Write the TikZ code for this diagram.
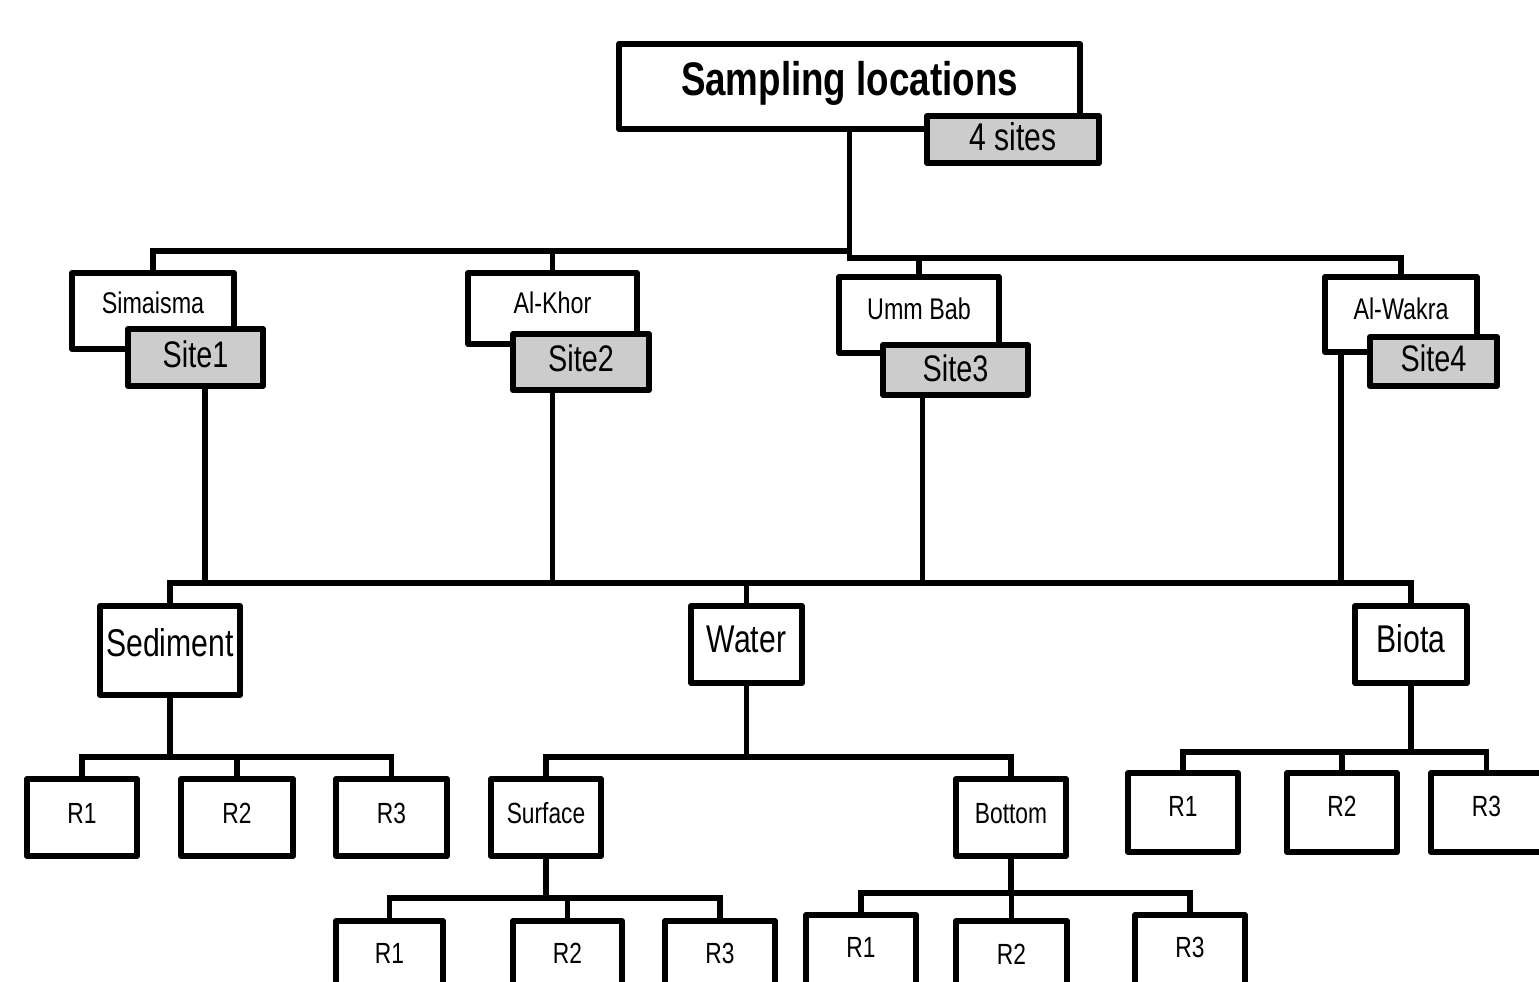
\documentclass[tikz,border=0pt]{standalone}
\usepackage{fontspec}
\setmainfont{Liberation Sans}[FakeStretch=0.78]
\newcommand\bx[8]{%
  \pgfmathsetmacro\bxw{(#5-#3-6)*0.01}%
  \pgfmathsetmacro\bxh{(#7-#4-3)*0.01}%
  \pgfmathsetmacro\bxd{(#6-#7-3)*0.01}%
  \pgfmathsetmacro\bxc{(#3+#5)/2}%
  \node[#2, anchor=base, minimum width=\bxw cm, text height=\bxh cm,
        text depth=\bxd cm, inner ysep=0pt, inner xsep=0pt] (#1) at (\bxc,#7) {#8};}
\tikzset{
  box/.style={draw=black, fill=white, line width=0.06cm, line join=round},
  graybox/.style={box, fill=black!20},
  titlef/.style={font=\fontsize{13.4}{16}\selectfont\bfseries},
  sitef/.style={font=\fontsize{10.5}{12}\selectfont},
  foursf/.style={font=\fontsize{11}{13}\selectfont},
  locf/.style={font=\fontsize{8.5}{10}\selectfont},
  matf/.style={font=\fontsize{11}{13}\selectfont},
  repf/.style={font=\fontsize{8.3}{10}\selectfont},
  conn/.style={draw=black, line width=0.058cm, line join=miter}
}
\begin{document}
\begin{tikzpicture}[x=0.01cm,y=-0.01cm]
\useasboundingbox (0,0) rectangle (1539,982);
\clip (0,0) rectangle (1539,982);
% level coordinates
\coordinate (bL) at (0,251);
\coordinate (bR) at (0,258);
\coordinate (bM) at (0,583);
\coordinate (bS) at (0,757);
\coordinate (bB) at (0,752);
\coordinate (bSu) at (0,898);
\coordinate (bBo) at (0,893);
% boxes
\bx{top}{box,titlef}{616}{41}{1083}{132}{96}{Sampling locations}
\bx{four}{graybox,foursf}{924}{113}{1102}{166}{151}{4 sites}
\bx{sim}{box,locf}{69}{270}{237}{352}{314}{Simaisma}
\bx{s1}{graybox,sitef}{125}{326}{266}{389}{367}{Site1}
\bx{akh}{box,locf}{465}{270}{640}{347}{314}{Al-Khor}
\bx{s2}{graybox,sitef}{510}{331}{652}{393}{371}{Site2}
\bx{umm}{box,locf}{836}{274}{1002}{356}{320}{Umm Bab}
\bx{s3}{graybox,sitef}{880}{342}{1031}{398}{381}{Site3}
\bx{wak}{box,locf}{1322}{274}{1480}{355}{320}{Al-Wakra}
\bx{s4}{graybox,sitef}{1367}{334}{1500}{389}{371}{Site4}
\bx{sed}{box,matf}{97}{603}{243}{698}{656}{Sediment}
\bx{wat}{box,matf}{688}{603}{805}{686}{652}{Water}
\bx{bio}{box,matf}{1352}{603}{1470}{686}{652}{Biota}
\bx{sr1}{box,repf}{24}{776}{140}{859}{823}{R1}
\bx{sr2}{box,repf}{178}{776}{296}{859}{823}{R2}
\bx{sr3}{box,repf}{333}{776}{450}{859}{823}{R3}
\bx{sur}{box,repf}{488}{776}{604}{859}{823}{Surface}
\bx{bot}{box,repf}{953}{776}{1069}{859}{823}{Bottom}
\bx{br1}{box,repf}{1125}{770}{1241}{855}{816}{R1}
\bx{br2}{box,repf}{1284}{770}{1400}{855}{816}{R2}
\bx{br3}{box,repf}{1428}{770}{1545}{855}{816}{R3}
\bx{ur1}{box,repf}{333}{918}{446}{1000}{963}{R1}
\bx{ur2}{box,repf}{510}{918}{625}{1000}{963}{R2}
\bx{ur3}{box,repf}{662}{918}{778}{1000}{963}{R3}
\bx{wr1}{box,repf}{803}{912}{919}{1000}{957}{R1}
\bx{wr2}{box,repf}{953}{918}{1070}{1000}{964}{R2}
\bx{wr3}{box,repf}{1132}{912}{1248}{1000}{957}{R3}
% connectors
\draw[conn] (top.south) -- (top.south |- bR) -| (wak.north);
\draw[conn] (sim.north) -- (sim.north |- bL) -- (top.south |- bL);
\draw[conn] (akh.north) -- (akh.north |- bL);
\draw[conn] (umm.north) -- (umm.north |- bR);
\path ([xshift=0.095cm]s1.south) coordinate (d1);
\path (s2.south -| akh.north) coordinate (d2);
\path ([xshift=-0.33cm]s3.south) coordinate (d3);
\path ([xshift=-0.6cm]wak.south) coordinate (d4);
\draw[conn] (d1) -- (d1 |- bM);
\draw[conn] (d2) -- (d2 |- bM);
\draw[conn] (d3) -- (d3 |- bM);
\draw[conn] (d4) -- (d4 |- bM);
\draw[conn] (sed.north) -- (sed.north |- bM) -| (bio.north);
\draw[conn] (wat.north) -- (wat.north |- bM);
\draw[conn] (sed.south) -- (sed.south |- bS);
\draw[conn] (sr1.north) -- (sr1.north |- bS) -| (sr3.north);
\draw[conn] (sr2.north) -- (sr2.north |- bS);
\draw[conn] (wat.south) -- (wat.south |- bS);
\draw[conn] (sur.north) -- (sur.north |- bS) -| (bot.north);
\draw[conn] (sur.south) -- (sur.south |- bSu);
\draw[conn] (ur1.north) -- (ur1.north |- bSu) -| (ur3.north);
\draw[conn] (ur2.north) -- (ur2.north |- bSu);
\draw[conn] (bot.south) -- (bot.south |- bBo);
\draw[conn] (wr1.north) -- (wr1.north |- bBo) -| (wr3.north);
\draw[conn] (wr2.north) -- (wr2.north |- bBo);
\draw[conn] (bio.south) -- (bio.south |- bB);
\draw[conn] (br1.north) -- (br1.north |- bB) -| (br3.north);
\draw[conn] (br2.north) -- (br2.north |- bB);
\end{tikzpicture}
\end{document}
